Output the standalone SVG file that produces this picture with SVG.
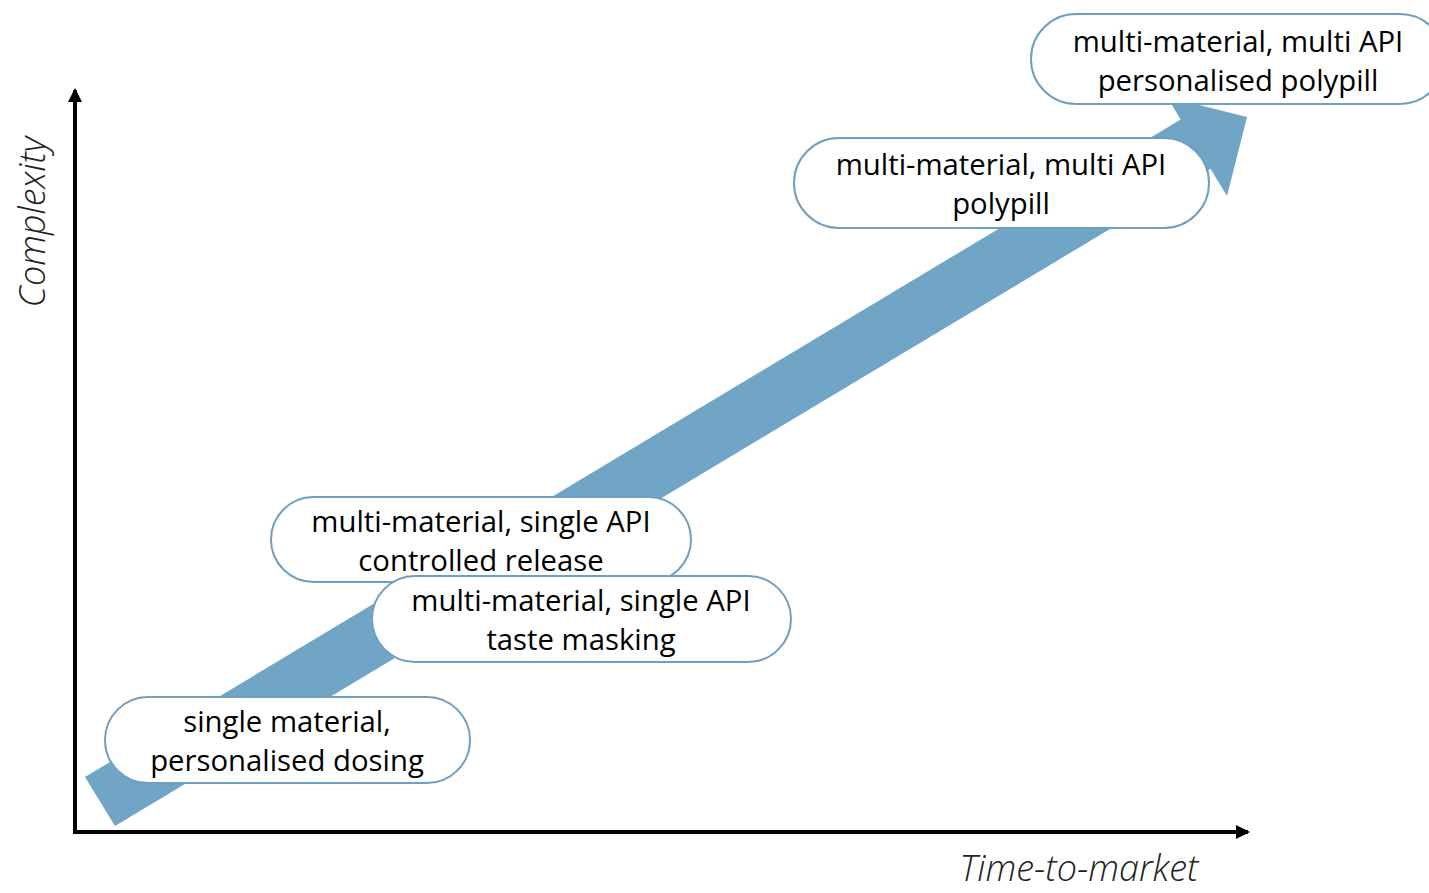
<svg xmlns="http://www.w3.org/2000/svg" width="1429" height="893" viewBox="0 0 1429 893">
<style>
.box{fill:#fff;stroke:#6f9fc0;stroke-width:2}
.t{font-family:"Open Sans","Noto Sans",sans-serif;font-size:29.3px;fill:#000;text-anchor:middle}
.ax{font-family:"Open Sans","Noto Sans",sans-serif;font-size:36px;font-style:italic;font-weight:300;fill:#222}
.axis{stroke:#000;stroke-width:4;fill:none}
</style>
<defs>
<marker id="ah" markerWidth="14" markerHeight="14" viewBox="0 0 14 14" refX="12" refY="7" orient="auto" markerUnits="userSpaceOnUse">
<path d="M0,0 L14,7 L0,14 z" fill="#000"/>
</marker>
</defs>
<g id="connectors">
<polygon id="big-arrow" points="85,777 1180.7,119.5 1167,97 1247,117 1227,196 1210.5,168.7 115,826" fill="#71a5c5"/>
<path class="axis" d="M75,832 L75,90" marker-end="url(#ah)"/>
<path class="axis" d="M73,832 L1248,832" marker-end="url(#ah)"/>
</g>
<g id="label-y"><text class="ax" transform="translate(45,222) rotate(-90)" text-anchor="middle">Complexity</text></g>
<g id="label-x"><text class="ax" x="1079" y="881" text-anchor="middle">Time-to-market</text></g>
<g id="n5"><rect class="box" x="1031" y="14" width="414" height="90" rx="45"/>
<text class="t" x="1238" y="52">multi-material, multi API</text><text class="t" x="1238" y="91">personalised polypill</text></g>
<g id="n4"><rect class="box" x="794" y="138" width="415" height="90" rx="45"/>
<text class="t" x="1001" y="175">multi-material, multi API</text><text class="t" x="1001" y="214">polypill</text></g>
<g id="n3"><rect class="box" x="271" y="497" width="420" height="85" rx="42.5"/>
<text class="t" x="481" y="532">multi-material, single API</text><text class="t" x="481" y="571">controlled release</text></g>
<g id="n2"><rect class="box" x="372" y="576" width="419" height="86" rx="43"/>
<text class="t" x="581" y="611">multi-material, single API</text><text class="t" x="581" y="650">taste masking</text></g>
<g id="n1"><rect class="box" x="105" y="697" width="365" height="86" rx="43"/>
<text class="t" x="287" y="732">single material,</text><text class="t" x="287" y="771">personalised dosing</text></g>
</svg>
